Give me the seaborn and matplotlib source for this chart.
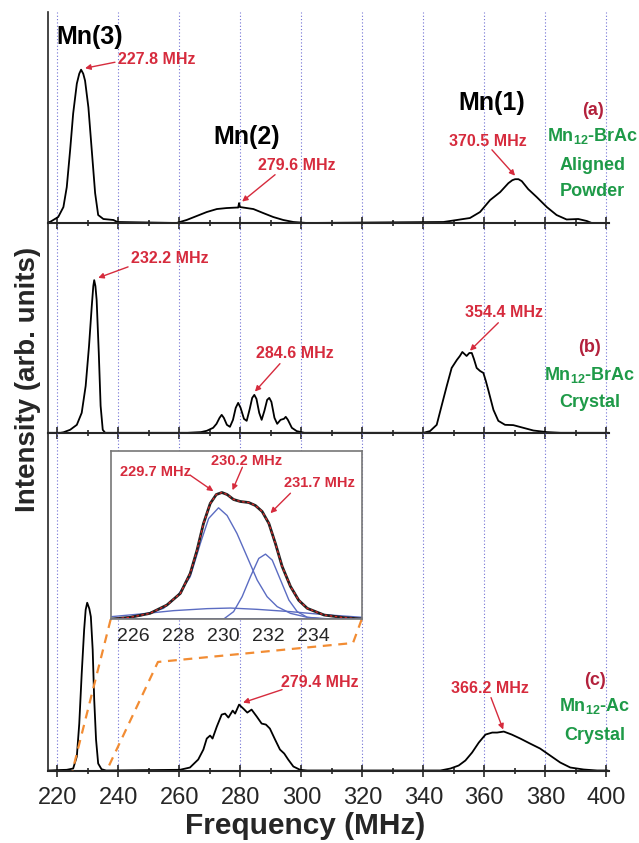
import matplotlib
matplotlib.use("Agg")
import matplotlib.pyplot as plt
import seaborn as sns
import numpy as np

# ---- spectra (frequency in MHz, intensity in arb. units) ----
# (a) Mn12-BrAc aligned powder
freq_a = [217.2, 217.6, 220.3, 222.0, 223.1, 224.2, 225.2, 226.4, 227.2, 227.8, 228.5, 229.1,
          230.2, 231.3, 232.4, 233.4, 235.1, 238.4, 239.7,
          259.1, 262.4, 265.7, 269.0, 272.3, 275.5, 278.8, 279.3, 279.6, 279.9, 281.0, 284.3,
          287.5, 290.8, 294.1, 297.4, 301.8,
          346.6, 351.0, 355.3, 358.6, 361.9, 365.2, 367.9, 369.2, 370.1, 371.2, 372.3, 374.4,
          377.2, 380.5, 383.7, 387.0, 390.8, 393.6, 395.2]
int_a = [0.01, 0.01, 0.06, 0.16, 0.36, 0.73, 1.10, 1.40, 1.50, 1.54, 1.50, 1.43,
         1.16, 0.73, 0.30, 0.08, 0.04, 0.03, 0.01,
         0.0, 0.03, 0.07, 0.11, 0.14, 0.15, 0.155, 0.155, 0.20, 0.16, 0.155, 0.14,
         0.10, 0.06, 0.03, 0.01, 0.0,
         0.01, 0.03, 0.05, 0.11, 0.23, 0.31, 0.40, 0.43, 0.44, 0.44, 0.42, 0.34,
         0.26, 0.16, 0.08, 0.035, 0.04, 0.02, 0.0]

# (b) Mn12-BrAc crystal
freq_b = [217.2, 221.0, 222.0, 224.2, 226.4, 228.0, 229.3, 230.4, 231.3, 231.8, 232.1, 232.5,
          232.9, 233.6, 234.2, 234.9, 235.7,
          262.7, 267.1, 269.0, 271.1, 272.2, 273.2, 273.9, 274.6, 275.6, 276.6, 277.6, 278.5,
          279.3, 280.1, 281.2, 282.1, 283.1, 283.9, 284.6, 285.3, 286.2, 287.0, 287.9, 288.8,
          289.5, 290.2, 291.2, 292.1, 293.2, 294.3, 294.9, 295.6, 296.9, 298.5, 301.0,
          340.0, 342.2, 344.4, 346.0, 347.7, 349.3, 351.0, 352.0, 352.8, 353.5, 354.2, 355.1,
          355.9, 356.6, 357.5, 358.6, 359.7, 360.5, 361.3, 363.0, 364.6, 366.8, 369.5, 372.8,
          376.1, 380.5, 385.0, 400.9]
int_b = [0.0, 0.0, 0.005, 0.03, 0.08, 0.20, 0.47, 0.87, 1.27, 1.47, 1.53, 1.47,
         1.33, 0.80, 0.27, 0.03, 0.0,
         0.0, 0.007, 0.02, 0.05, 0.09, 0.15, 0.18, 0.15, 0.08, 0.06, 0.13, 0.25,
         0.30, 0.25, 0.14, 0.12, 0.24, 0.35, 0.38, 0.34, 0.20, 0.13, 0.22, 0.33,
         0.35, 0.31, 0.15, 0.09, 0.13, 0.14, 0.16, 0.13, 0.05, 0.017, 0.0,
         0.0, 0.017, 0.08, 0.27, 0.47, 0.65, 0.73, 0.77, 0.81, 0.79, 0.77, 0.80,
         0.80, 0.74, 0.65, 0.62, 0.60, 0.52, 0.43, 0.23, 0.12, 0.08, 0.077, 0.05,
         0.023, 0.007, 0.0, 0.0]

# (c) Mn12-Ac crystal
freq_c = [217.2, 221.0, 223.1, 225.2, 226.4, 227.2, 228.0, 228.8, 229.3, 229.8, 230.5, 231.0,
          231.6, 232.1, 232.7, 233.4, 234.5, 236.0,
          260.2, 263.5, 266.2, 267.9, 269.0, 270.1, 270.9, 272.3, 273.9, 275.0, 276.1, 277.5,
          278.3, 279.6, 281.0, 282.3, 283.7, 285.4, 287.0, 288.4, 289.7, 291.4, 293.0, 294.4,
          295.7, 297.4, 299.6, 302.0,
          345.6, 348.9, 351.6, 353.8, 356.0, 358.2, 360.4, 362.6, 364.2, 366.4, 369.0, 371.8,
          375.0, 378.3, 381.6, 384.9, 388.2, 392.6, 397.0, 400.5]
int_c = [0.0, 0.005, 0.007, 0.02, 0.14, 0.47, 0.97, 1.41, 1.61, 1.68, 1.62, 1.54,
         1.21, 0.71, 0.31, 0.07, 0.013, 0.0,
         0.007, 0.03, 0.11, 0.21, 0.32, 0.35, 0.32, 0.44, 0.56, 0.57, 0.53, 0.60,
         0.57, 0.66, 0.62, 0.58, 0.61, 0.54, 0.47, 0.46, 0.42, 0.31, 0.21, 0.17,
         0.11, 0.04, 0.007, 0.0,
         0.0, 0.02, 0.05, 0.10, 0.18, 0.28, 0.36, 0.38, 0.38, 0.39, 0.36, 0.32,
         0.27, 0.22, 0.15, 0.08, 0.03, 0.01, 0.0, 0.0]

# inset: Mn(3) line of (c) with its three-component fit
ins_f = [225.04, 225.86, 226.75, 227.5, 228.1, 228.54, 228.84, 229.13, 229.43, 229.70, 229.95,
         230.18, 230.47, 230.77, 231.14, 231.44, 231.74, 232.04, 232.33, 232.63, 233.0, 233.37,
         233.75, 234.5, 235.38, 236.2]
ins_total = [0.003, 0.02, 0.06, 0.143, 0.26, 0.46, 0.69, 0.96, 1.16, 1.25, 1.27,
             1.25, 1.20, 1.18, 1.17, 1.14, 1.08, 0.96, 0.76, 0.53, 0.33, 0.19,
             0.11, 0.043, 0.017, 0.003]
comp1_f = [225.04, 226.3, 227.35, 227.95, 228.54, 228.99, 229.36, 229.80, 230.18, 230.62, 231.07,
           231.52, 231.96, 232.41, 233.0, 233.75, 234.79]
comp1_i = [0.003, 0.033, 0.11, 0.227, 0.427, 0.76, 1.01, 1.117, 1.04, 0.86, 0.627,
           0.393, 0.227, 0.127, 0.06, 0.02, 0.003]
comp2_f = [230.03, 230.47, 230.85, 231.22, 231.59, 231.89, 232.19, 232.56, 232.93, 233.30, 233.75, 234.5]
comp2_i = [0.003, 0.077, 0.227, 0.427, 0.61, 0.653, 0.593, 0.393, 0.193, 0.077, 0.02, 0.003]
comp3_f = [225.04, 226.3, 227.8, 229.29, 230.33, 231.52, 233.0, 234.5, 236.2]
comp3_i = [0.027, 0.053, 0.087, 0.107, 0.113, 0.10, 0.077, 0.047, 0.02]

# zoom guide lines (panel c data coords)
guide1_f = [237.5, 225.0]
guide1_i = [1.514, 0.0]
guide2_f = [319.8, 316.95, 253.0, 236.2]
guide2_i = [1.514, 1.277, 1.087, 0.0]

major_ticks = list(range(220, 401, 20))
minor_ticks = list(range(230, 400, 20))
inset_ticks = [226, 228, 230, 232, 234]

RED = "#d62b3d"
DRED = "#b3213c"
GREEN = "#1e9a48"
BLUE = "#5b6cc2"
ORANGE = "#f28c33"
GRID = "#7070d4"

sns.set_style("ticks")
plt.rcParams["font.family"] = ["Liberation Sans", "DejaVu Sans"]
plt.rcParams["mathtext.fontset"] = "custom"
plt.rcParams["mathtext.rm"] = "Liberation Sans:bold"
plt.rcParams["mathtext.bf"] = "Liberation Sans:bold"

fig = plt.figure(figsize=(6.39, 8.43), dpi=100)
left, width = 0.0756, 0.8775
ax_a = fig.add_axes([left, 0.7349, width, 0.2503])
ax_b = fig.add_axes([left, 0.4860, width, 0.2489])
ax_c = fig.add_axes([left, 0.0854, width, 0.4006])

panels = [(ax_a, freq_a, int_a, 2.115), (ax_b, freq_b, int_b, 2.098), (ax_c, freq_c, int_c, 3.377)]
for ax, f, y, top in panels:
    sns.lineplot(x=f, y=y, ax=ax, color="black", lw=1.3, estimator=None, sort=False)
    ax.set_xlim(217.05, 400.9)
    ax.set_ylim(-0.005, top)
    ax.set_xticks(major_ticks)
    ax.set_xticks(minor_ticks, minor=True)
    ax.set_yticks([])
    ax.grid(axis="x", which="major", linestyle=(0, (1, 2)), color=GRID, lw=0.8)
    ax.tick_params(axis="x", which="major", direction="inout", length=8.5, width=1.2,
                   labelsize=17, pad=7)
    ax.tick_params(axis="x", which="minor", direction="inout", length=5, width=1.2)
    for s in ["top", "right"]:
        ax.spines[s].set_visible(False)
    ax.spines["bottom"].set_linewidth(1.5)
    ax.spines["left"].set_linewidth(1.2)
    ax.set_xlabel("")
    ax.set_ylabel("")
    ax.patch.set_alpha(0)

ax_a.tick_params(axis="x", labelbottom=False)
ax_b.tick_params(axis="x", labelbottom=False)


def arrow(ax, tail, head):
    ax.annotate("", xy=head, xytext=tail,
                arrowprops=dict(arrowstyle="-|>", color=RED, lw=1.0, mutation_scale=8,
                                shrinkA=0, shrinkB=0))


def red(ax, x, y, s, size=11.5):
    ax.text(x, y, s, color=RED, fontsize=size, fontweight="bold", ha="center", va="center")


def side(ax, x, ys, lines):
    ax.text(x, ys[0], lines[0], color=DRED, fontsize=13, fontweight="bold", ha="center", va="center")
    for yy, s in zip(ys[1:], lines[1:]):
        ax.text(x, yy, s, color=GREEN, fontsize=13, fontweight="bold", ha="center", va="center")


# panel (a)
for x, y, s in [(230.7, 1.865, "Mn(3)"), (282.2, 0.865, "Mn(2)"), (362.5, 1.205, "Mn(1)")]:
    ax_a.text(x, y, s, fontsize=18, fontweight="bold", color="black", ha="center", va="center")
red(ax_a, 252.7, 1.645, "227.8 MHz")
arrow(ax_a, (238.9, 1.615), (229.1, 1.555))
red(ax_a, 298.6, 0.575, "279.6 MHz")
arrow(ax_a, (291.4, 0.485), (280.6, 0.215))
red(ax_a, 361.2, 0.815, "370.5 MHz")
arrow(ax_a, (362.5, 0.735), (370.1, 0.475))
side(ax_a, 395.5, [1.135, 0.875, 0.575, 0.315],
     ["(a)", r"Mn$_{\mathrm{12}}$-BrAc", "Aligned", "Powder"])

# panel (b)
red(ax_b, 257.0, 1.743, "232.2 MHz")
arrow(ax_b, (243.2, 1.663), (233.4, 1.553))
red(ax_b, 298.0, 0.793, "284.6 MHz")
arrow(ax_b, (293.0, 0.693), (284.8, 0.413))
red(ax_b, 366.5, 1.203, "354.4 MHz")
arrow(ax_b, (364.6, 1.103), (355.3, 0.823))
side(ax_b, 394.5, [0.853, 0.583, 0.303], ["(b)", r"Mn$_{\mathrm{12}}$-BrAc", "Crystal"])

# panel (c)
red(ax_c, 306.1, 0.88, "279.4 MHz")
arrow(ax_c, (293.7, 0.81), (280.9, 0.68))
red(ax_c, 361.9, 0.82, "366.2 MHz")
arrow(ax_c, (362.2, 0.73), (366.2, 0.41))
side(ax_c, 396.3, [0.90, 0.65, 0.35], ["(c)", r"Mn$_{\mathrm{12}}$-Ac", "Crystal"])

ax_c.plot(guide1_f, guide1_i, color=ORANGE, lw=1.6, ls=(0, (4, 3)), zorder=4)
ax_c.plot(guide2_f, guide2_i, color=ORANGE, lw=1.6, ls=(0, (4, 3)), zorder=4)

# inset
ins = ax_c.inset_axes([237.5, 1.514, 82.3, 1.686], transform=ax_c.transData)
ins.set_facecolor("white")
for f, y in [(comp1_f, comp1_i), (comp2_f, comp2_i), (comp3_f, comp3_i)]:
    sns.lineplot(x=f, y=y, ax=ins, color=BLUE, lw=1.0, estimator=None, sort=False)
sns.lineplot(x=ins_f, y=ins_total, ax=ins, color="#222222", lw=2.0, estimator=None, sort=False)
sns.lineplot(x=ins_f, y=ins_total, ax=ins, color="#e02828", lw=0.9, ls=(0, (2, 2)),
             estimator=None, sort=False)
ins.axhline(0.0, color=BLUE, lw=1.2)
ins.set_xlim(225, 236.17)
ins.set_ylim(0, 1.686)
ins.set_xticks(inset_ticks)
ins.set_yticks([])
ins.tick_params(axis="x", length=0, labelsize=14, pad=6)
ins.set_xlabel("")
ins.set_ylabel("")
for s in ins.spines.values():
    s.set_color("#777777")
    s.set_linewidth(1.2)
red(ins, 226.98, 1.473, "229.7 MHz", size=10.5)
arrow(ins, (228.54, 1.443), (229.57, 1.283))
red(ins, 231.04, 1.583, "230.2 MHz", size=10.5)
arrow(ins, (230.86, 1.523), (230.42, 1.293))
red(ins, 234.3, 1.363, "231.7 MHz", size=10.5)
arrow(ins, (233.0, 1.263), (232.11, 1.063))

fig.text(0.0438, 0.5504, "Intensity (arb. units)", rotation=90, fontsize=20,
         fontweight="bold", ha="center", va="center")
fig.text(0.478, 0.0202, "Frequency (MHz)", fontsize=21.5, fontweight="bold",
         ha="center", va="center")

fig.savefig("out.png", dpi=100)
